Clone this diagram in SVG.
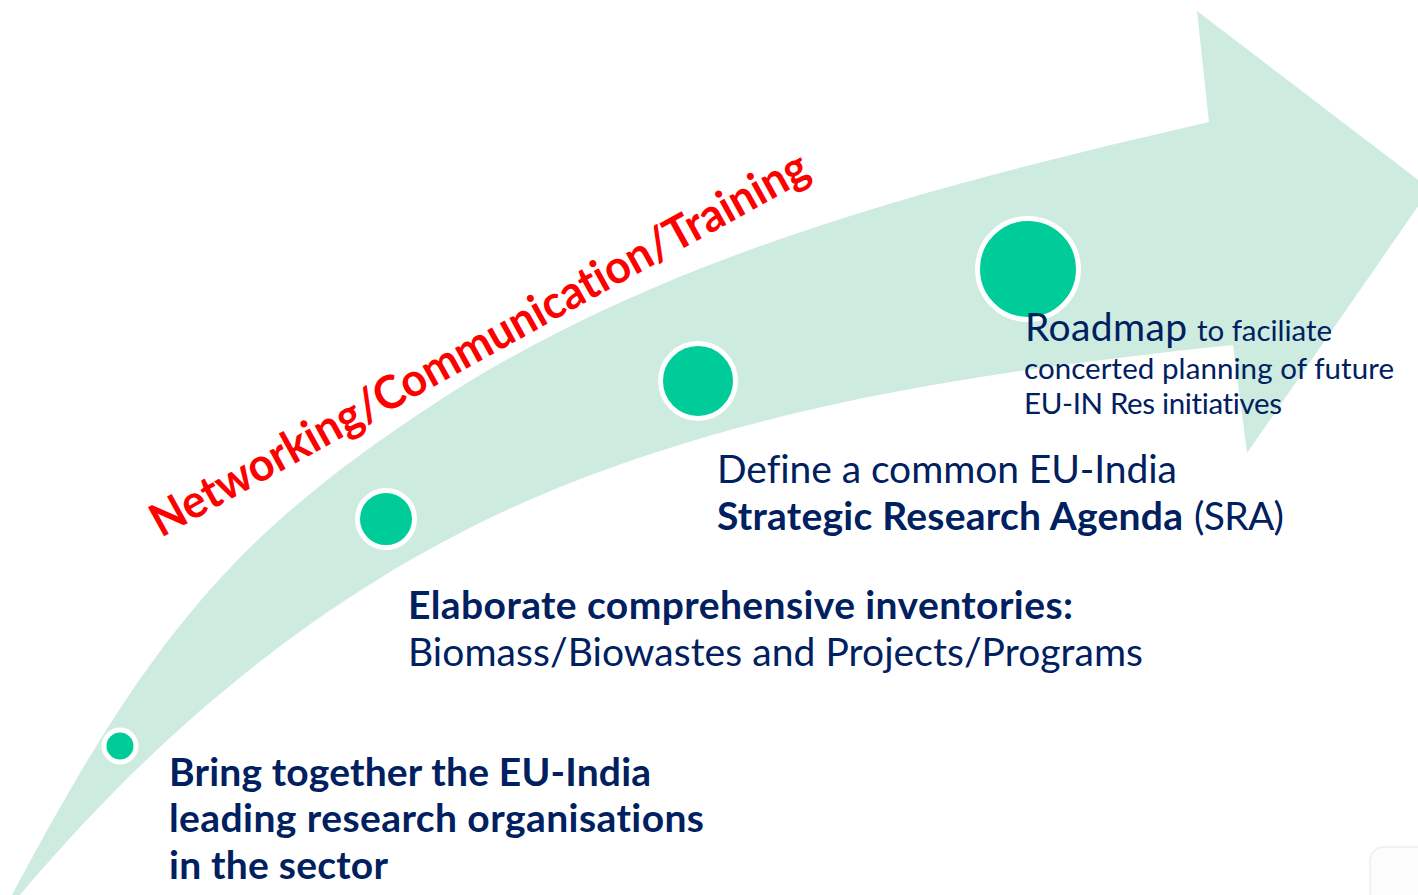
<svg xmlns="http://www.w3.org/2000/svg" width="1418" height="895" viewBox="0 0 1418 895">
<style>
.band{fill:#CDEBDF;}
.dot{fill:#00CC99;stroke:#FFFFFF;stroke-width:5;}
.t{font-family:Lato,"Liberation Sans",sans-serif;fill:#002060;font-variant-ligatures:none;}
.b{font-weight:bold;}
.big{font-size:39px;}
.sm{font-size:29.5px;}
.red{font-family:Lato,"Liberation Sans",sans-serif;font-weight:bold;font-size:46px;fill:#FF0000;font-variant-ligatures:none;}
</style>
<rect width="1418" height="895" fill="#FFFFFF"/>
<g id="connectors">
<path id="arrow" class="band" d="M12,895 C152.7,630 239,531 440,400 C666.5,253 946,182.8 1209,122 L1197,11 L1430,189 L1247,453 L1233,345 C1004,369 773,401 560,487 C347,573 168,719 20,895 Z"/>
</g>
<rect x="1370" y="847" width="70" height="70" rx="14" fill="#FCFCFC" stroke="#EEEEEE" stroke-width="1.5"/>
<g id="theme">
<text class="red" transform="translate(161,538) rotate(-29)" x="0" y="0" textLength="745" lengthAdjust="spacingAndGlyphs">Networking/Communication/Training</text>
</g>
<g id="step1">
<circle class="dot" cx="120" cy="746" r="16"/>
<text class="t b big" x="169" y="786" textLength="482">Bring together the EU-India</text>
<text class="t b big" x="169" y="832" textLength="535">leading research organisations</text>
<text class="t b big" x="169" y="879" textLength="219">in the sector</text>
</g>
<g id="step2">
<circle class="dot" cx="386" cy="519" r="28.5"/>
<text class="t b big" x="408" y="619" textLength="665">Elaborate comprehensive inventories:</text>
<text class="t big" x="408" y="666" textLength="735">Biomass/Biowastes and Projects/Programs</text>
</g>
<g id="step3">
<circle class="dot" cx="698" cy="381" r="37.5"/>
<text class="t big" x="717" y="483" textLength="460">Define a common EU-India</text>
<text class="t b big" x="717" y="530" textLength="466">Strategic Research Agenda</text>
<text class="t big" x="1194" y="530" textLength="90">(SRA)</text>
</g>
<g id="step4">
<circle class="dot" cx="1028" cy="269" r="50.5"/>
<text class="t big" x="1025" y="341" textLength="162">Roadmap</text>
<text class="t sm" x="1197" y="341" textLength="135">to faciliate</text>
<text class="t sm" x="1024" y="379" textLength="370">concerted planning of future</text>
<text class="t sm" x="1024" y="414" textLength="258">EU-IN Res initiatives</text>
</g>
</svg>
